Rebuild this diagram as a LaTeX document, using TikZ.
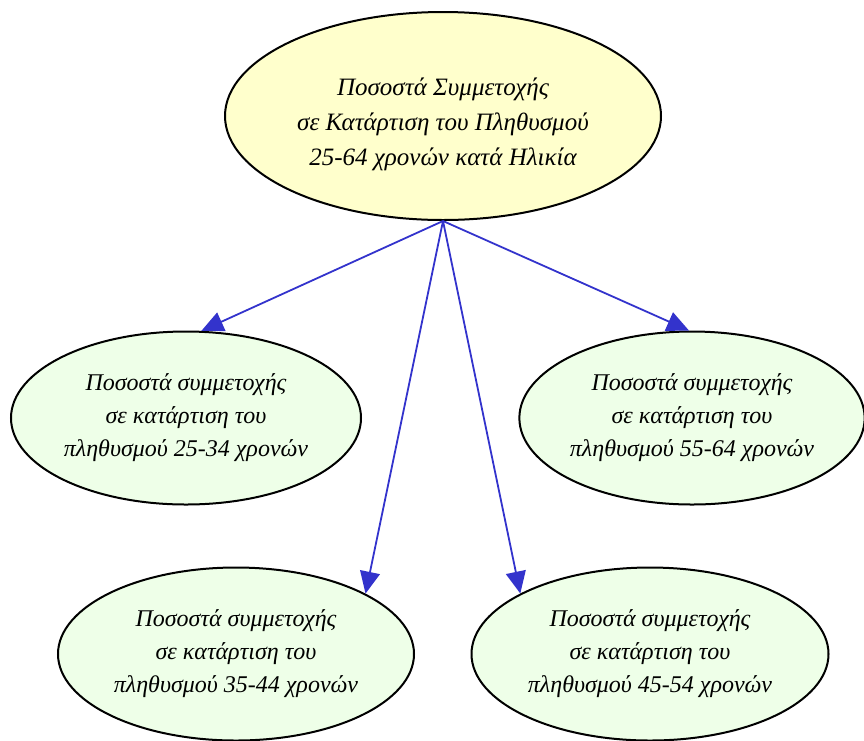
\documentclass[tikz,border=0pt]{standalone}
\usepackage{fontspec}
\setmainfont{Liberation Serif}
\usetikzlibrary{shapes.geometric,arrows.meta}
\definecolor{topfill}{HTML}{FFFFCC}
\definecolor{subfill}{HTML}{EEFFE8}
\definecolor{edgeblue}{HTML}{3333CC}
\begin{document}
\begin{tikzpicture}[
  oval/.style={ellipse, draw=black, line width=2pt, inner sep=0pt, align=center,
    font=\itshape\fontsize{24}{33}\selectfont},
  topoval/.style={oval, fill=topfill, minimum width=436pt, minimum height=208pt},
  suboval/.style={oval, fill=subfill, minimum width=350pt, minimum height=173pt},
  toptext/.style={align=center, inner sep=0pt, font=\itshape\fontsize{25}{35}\selectfont},
  link/.style={draw=edgeblue, line width=1.8pt, -{Triangle[length=22pt,width=20pt]}}
]
\useasboundingbox (0pt,0pt) rectangle (864pt,-740pt);
\node[topoval] (root) at (443pt,-116pt) {};
\node[toptext] (roottext) at (443pt,-124pt) {Ποσοστά Συμμετοχής\\σε Κατάρτιση του Πληθυσμού\\25-64 χρονών κατά Ηλικία};
\node[suboval] (a) at (186pt,-418pt) {Ποσοστά συμμετοχής\\σε κατάρτιση του\\πληθυσμού 25-34 χρονών};
\node[suboval, minimum width=344pt] (d) at (692pt,-418pt) {Ποσοστά συμμετοχής\\σε κατάρτιση του\\πληθυσμού 55-64 χρονών};
\node[suboval, minimum width=356pt] (b) at (236pt,-654pt) {Ποσοστά συμμετοχής\\σε κατάρτιση του\\πληθυσμού 35-44 χρονών};
\node[suboval, minimum width=357pt] (c) at (650pt,-654pt) {Ποσοστά συμμετοχής\\σε κατάρτιση του\\πληθυσμού 45-54 χρονών};
\coordinate (s) at (root.south);
\draw[link] (s) -- (a.80);
\draw[link] (s) -- (d.92);
\draw[link] (s) -- (b.25);
\draw[link] (s) -- (c.155);
\end{tikzpicture}
\end{document}
